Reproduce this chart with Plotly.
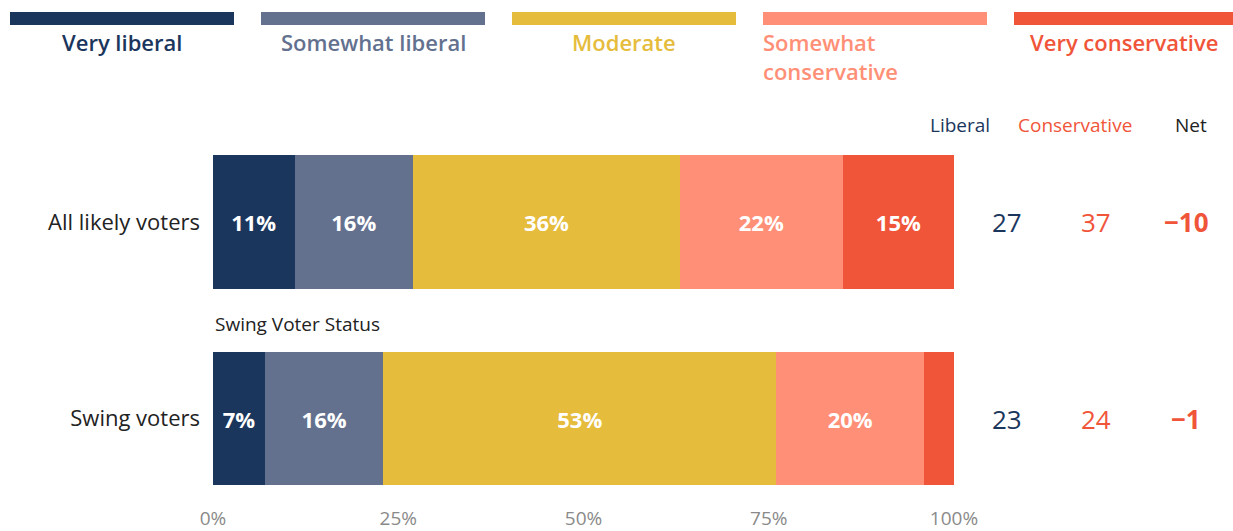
import plotly.graph_objects as go

# ---- data -------------------------------------------------------------
groups = ["All likely voters", "Swing voters"]
segments = ["Very liberal", "Somewhat liberal", "Moderate",
            "Somewhat conservative", "Very conservative"]
very_liberal = [11, 7]
somewhat_liberal = [16, 16]
moderate = [36, 53]
somewhat_conservative = [22, 20]
very_conservative = [15, 4]
tick_vals = [0, 25, 50, 75, 100]
tick_text = ["0%", "25%", "50%", "75%", "100%"]
section_label = "Swing Voter Status"
column_headers = ["Liberal", "Conservative", "Net"]

series = [very_liberal, somewhat_liberal, moderate,
          somewhat_conservative, very_conservative]
colors = ["#1b365d", "#63718f", "#e6bc3c", "#ff8f76", "#f0553a"]

liberal_total = [a + b for a, b in zip(very_liberal, somewhat_liberal)]
conservative_total = [a + b for a, b in zip(somewhat_conservative, very_conservative)]
net = [l - c for l, c in zip(liberal_total, conservative_total)]

FONT = "Open Sans"
W, H = 1233, 531
L, R, T, B = 213, 279, 140, 32
PW, PH = W - L - R, H - T - B


def px_x(px):
    return (px - L) / PW


def px_y(py):
    return 1 - (py - T) / PH


fig = go.Figure()
ypos = [0, 1]
for name, vals, col in zip(segments, series, colors):
    fig.add_trace(go.Bar(
        y=ypos, x=vals, name=name, orientation="h",
        marker=dict(color=col, line=dict(width=0)),
        width=0.68,
        text=[f"{v}%" if v >= 5 else "" for v in vals],
        textposition="inside", insidetextanchor="middle",
        textfont=dict(family=FONT, size=22, color="white", weight=700),
        cliponaxis=False, showlegend=False, hoverinfo="skip",
    ))

annotations = []
shapes = []

# legend: colored strip with label underneath
leg_x = [(10, 234), (261, 485), (512, 736), (763, 987), (1014, 1233)]
for (x0, x1), name, col in zip(leg_x, segments, colors):
    shapes.append(dict(type="rect", xref="paper", yref="paper",
                       x0=px_x(x0), x1=px_x(x1), y0=px_y(25), y1=px_y(12),
                       fillcolor=col, line=dict(width=0), layer="above"))
    if name == "Somewhat conservative":
        annotations.append(dict(xref="paper", yref="paper", x=px_x(x0 - 2), y=px_y(25),
                                xanchor="left", yanchor="top", align="left",
                                text="Somewhat<br>conservative", showarrow=False,
                                font=dict(family=FONT, size=22, color=col, weight=600)))
    else:
        annotations.append(dict(xref="paper", yref="paper", x=px_x((x0 + x1) / 2), y=px_y(25),
                                xanchor="center", yanchor="top",
                                text=name, showarrow=False,
                                font=dict(family=FONT, size=22, color=col, weight=600)))

# column headers
header_x = [960, 1075, 1191]
header_col = ["#1b365d", "#f0553a", "#222222"]
for hx, txt, col in zip(header_x, column_headers, header_col):
    annotations.append(dict(xref="paper", yref="paper", x=px_x(hx), y=px_y(125),
                            xanchor="center", yanchor="middle", text=txt, showarrow=False,
                            font=dict(family=FONT, size=19, color=col)))

# totals per group
for i in range(len(groups)):
    annotations.append(dict(xref="paper", yref="y", x=px_x(1007), y=ypos[i],
                            xanchor="center", yanchor="middle",
                            text=str(liberal_total[i]), showarrow=False,
                            font=dict(family=FONT, size=26, color="#1b365d")))
    annotations.append(dict(xref="paper", yref="y", x=px_x(1096), y=ypos[i],
                            xanchor="center", yanchor="middle",
                            text=str(conservative_total[i]), showarrow=False,
                            font=dict(family=FONT, size=26, color="#f0553a")))
    n = net[i]
    ntxt = ("\u2212" + str(abs(n))) if n < 0 else ("+" + str(n) if n > 0 else "0")
    ncol = "#f0553a" if n < 0 else "#1b365d"
    annotations.append(dict(xref="paper", yref="y", x=px_x(1186), y=ypos[i],
                            xanchor="center", yanchor="middle",
                            text=ntxt, showarrow=False,
                            font=dict(family=FONT, size=26, color=ncol, weight=700)))

annotations.append(dict(xref="paper", yref="paper", x=0, y=px_y(324),
                        xanchor="left", yanchor="middle", text=section_label,
                        showarrow=False, font=dict(family=FONT, size=19, color="#222222")))

# y range chosen so that bar centres land 196.5px apart
unit = 196.5
y_top = 0 - (222 - T) / unit
y_bot = 1 + ((H - B) - 418.5) / unit

fig.update_layout(
    width=W, height=H, barmode="stack",
    margin=dict(l=L, r=R, t=T, b=B, autoexpand=False),
    plot_bgcolor="white", paper_bgcolor="white",
    font=dict(family=FONT),
    xaxis=dict(range=[0, 100], tickvals=tick_vals, ticktext=tick_text,
               showgrid=False, zeroline=False, showline=False, ticks="",
               automargin=False, ticklabelstandoff=6,
               tickfont=dict(family=FONT, size=19, color="#8a8a8a"), fixedrange=True),
    yaxis=dict(range=[y_bot, y_top], tickvals=ypos, ticktext=groups,
               showgrid=False, zeroline=False, showline=False, ticks="",
               automargin=False, ticklabelstandoff=12,
               tickfont=dict(family=FONT, size=22, color="#222222"), fixedrange=True),
    annotations=annotations, shapes=shapes,
)

fig.write_html("out.html")
